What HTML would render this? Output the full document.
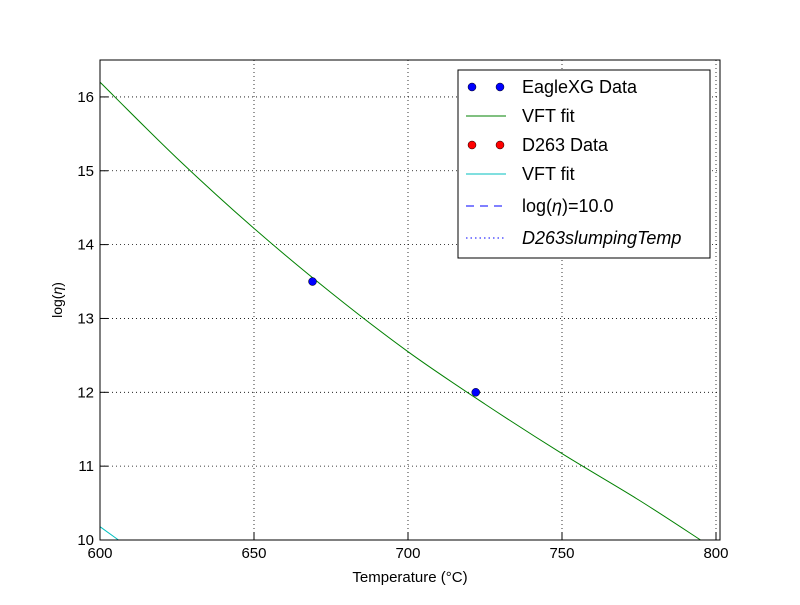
<!DOCTYPE html>
<html><head><meta charset="utf-8"><style>
body{margin:0;background:#fff;}
svg text{font-family:"Liberation Sans",sans-serif;}
</style></head><body>
<svg id="chart" width="800" height="600" xmlns="http://www.w3.org/2000/svg">
<rect width="800" height="600" fill="#fff"/>
<g id="grid"></g>
<g id="marks"></g>
<rect x="100" y="60" width="620" height="480" fill="none" stroke="#000" stroke-width="1"/>
<g id="ticks"></g>
<text x="410" y="582" font-size="15" text-anchor="middle">Temperature (°C)</text>
<text transform="translate(62,300) rotate(-90)" font-size="14" text-anchor="middle" font-family="Liberation Serif">log(<tspan font-style="italic">η</tspan>)</text>
<g>
<rect x="458" y="70" width="252" height="188" fill="#fff" stroke="#000"/>
<g><circle cx="472" cy="87" r="4" fill="#0000ff" stroke="#000" stroke-width="0.5"/><circle cx="500" cy="87" r="4" fill="#0000ff" stroke="#000" stroke-width="0.5"/><text x="522" y="93" font-size="18">EagleXG Data</text></g>
<g><line x1="466" x2="506" y1="116" y2="116" stroke="#008000"/><text x="522" y="122" font-size="18">VFT fit</text></g>
<g><circle cx="472" cy="145" r="4" fill="#ff0000" stroke="#000" stroke-width="0.5"/><circle cx="500" cy="145" r="4" fill="#ff0000" stroke="#000" stroke-width="0.5"/><text x="522" y="151" font-size="18">D263 Data</text></g>
<g><line x1="466" x2="506" y1="174" y2="174" stroke="#00bfbf"/><text x="522" y="180" font-size="18">VFT fit</text></g>
<g><line x1="466" x2="506" y1="206" y2="206" stroke="#0000ff" stroke-dasharray="8,6"/><text x="522" y="212" font-size="18" font-family="Liberation Serif">log(<tspan font-style="italic">η</tspan>)=10.0</text></g>
<g><line x1="466" x2="506" y1="238" y2="238" stroke="#0000ff" stroke-dasharray="1.5,3"/><text x="522" y="244" font-size="18" font-family="Liberation Serif" font-style="italic">D263slumpingTemp</text></g>
</g>
</svg>
<script>
const xTicks=[600,650,700,750,800];
const yTicks=[10,11,12,13,14,15,16];
const eagleT=[669,722];
const eagleEta=[13.5,12.0];
const vftT=[600,625,650,675,700,725,750,775,795];
const vftEta=[16.2,15.17,14.22,13.35,12.55,11.84,11.17,10.54,10.0];
const cyanT=[600,606];
const cyanEta=[10.18,10.0];
const refEta=[10.0];
const X=t=>100+(t-600)*620/201.3;
const Y=v=>540-(v-10)*480/6.5;
const NS="http://www.w3.org/2000/svg";
function mk(tag,attrs,parent){const e=document.createElementNS(NS,tag);for(const k in attrs)e.setAttribute(k,attrs[k]);document.getElementById(parent).appendChild(e);return e;}
xTicks.forEach(t=>{
 const g=mk('line',{x1:X(t),x2:X(t),y1:60,y2:540,stroke:'#000','stroke-dasharray':'1,3','stroke-width':0.8},'grid');
 
 
 const tk=mk('line',{x1:X(t),x2:X(t),y1:540,y2:532,stroke:'#000'},'ticks');
 
 
 const tx=mk('text',{x:X(t),y:558,'font-size':15,'text-anchor':'middle'},'ticks');tx.textContent=t;
 
 
});
yTicks.forEach(v=>{
 const g=mk('line',{x1:100,x2:720,y1:Y(v),y2:Y(v),stroke:'#000','stroke-dasharray':'1,3','stroke-width':0.8},'grid');
 
 
 const tk=mk('line',{x1:100,x2:108,y1:Y(v),y2:Y(v),stroke:'#000'},'ticks');
 
 
 const tx=mk('text',{x:94,y:Y(v)+5,'font-size':15,'text-anchor':'end'},'ticks');tx.textContent=v;
 
 
});
function smooth(ts,vs){
 const p=ts.map((t,i)=>[X(t),Y(vs[i])]);
 let d='M'+p[0][0]+','+p[0][1];
 for(let i=0;i<p.length-1;i++){
  const p0=p[i-1]||p[i],p1=p[i],p2=p[i+1],p3=p[i+2]||p2;
  const c1=[p1[0]+(p2[0]-p0[0])/6,p1[1]+(p2[1]-p0[1])/6];
  const c2=[p2[0]-(p3[0]-p1[0])/6,p2[1]-(p3[1]-p1[1])/6];
  d+=' C'+c1+' '+c2+' '+p2;
 }
 return d;
}
const pts=(ts,vs)=>ts.map((t,i)=>X(t)+','+Y(vs[i])).join(' ');
const ref=mk('line',{x1:100,x2:720,y1:Y(refEta[0]),y2:Y(refEta[0]),stroke:'#0000ff','stroke-dasharray':'8,6'},'marks');


const g1=mk('path',{d:smooth(vftT,vftEta),fill:'none',stroke:'#008000','stroke-width':1},'marks');


const c1=mk('polyline',{points:pts(cyanT,cyanEta),fill:'none',stroke:'#00bfbf','stroke-width':1},'marks');


eagleT.forEach((t,i)=>{
 const c=mk('circle',{cx:X(t),cy:Y(eagleEta[i]),r:4,fill:'#0000ff',stroke:'#000','stroke-width':0.5},'marks');
 
 
});
</script>
</body></html>
